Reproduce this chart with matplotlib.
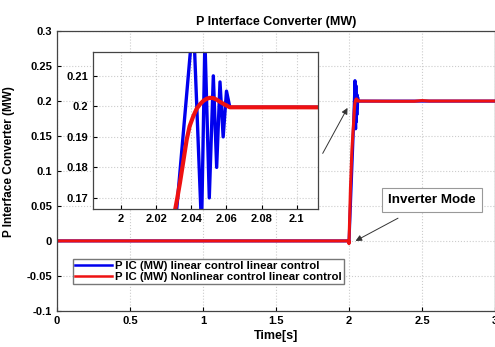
import matplotlib
matplotlib.use("Agg")
import matplotlib.pyplot as plt

plt.rcParams['font.family'] = ['Liberation Sans', 'DejaVu Sans']
plt.rcParams['font.weight'] = 'bold'

# Data
t_blue = [0.0, 1.999, 2.0, 2.0316, 2.0411, 2.0458, 2.0477, 2.0502, 2.0525, 2.0544,
          2.0563, 2.0581, 2.0600, 2.0619, 2.1, 2.3, 2.5, 3.0]
p_blue = [0.0, 0.0, -0.003, 0.166, 0.229, 0.160, 0.222, 0.170, 0.210, 0.180,
          0.208, 0.190, 0.205, 0.1997, 0.1997, 0.1997, 0.1997, 0.1997]

t_red = [0.0, 1.999, 2.0, 2.010, 2.020, 2.028, 2.0307, 2.032, 2.0335, 2.035, 2.0373,
         2.039, 2.0411, 2.043, 2.0449, 2.0468, 2.0487, 2.0506, 2.0525, 2.0544, 2.0563,
         2.058, 2.060, 2.0619, 2.1, 2.3, 2.45, 2.5, 2.55, 3.0]
p_red = [0.0, 0.0, -0.004, 0.075, 0.130, 0.158, 0.166, 0.170, 0.175, 0.1805, 0.189,
         0.1935, 0.1968, 0.1992, 0.2007, 0.2018, 0.2025, 0.2028, 0.2027, 0.2022, 0.2015,
         0.2009, 0.2003, 0.1997, 0.1997, 0.1995, 0.1995, 0.2005, 0.1998, 0.1998]

label_blue = "P IC (MW) linear control linear control"
label_red = "P IC (MW) Nonlinear control linear control"

main_xticks = [0, 0.5, 1, 1.5, 2, 2.5, 3]
main_yticks = [-0.1, -0.05, 0, 0.05, 0.1, 0.15, 0.2, 0.25, 0.3]
inset_xticks = [2, 2.02, 2.04, 2.06, 2.08, 2.1]
inset_yticks = [0.17, 0.18, 0.19, 0.2, 0.21]

fig = plt.figure(figsize=(4.95, 3.47), dpi=100)
ax = fig.add_axes([0.115, 0.104, 0.885, 0.807])

grid_kw = dict(color='#cccccc', linestyle=':', linewidth=0.8)

ax.plot(t_blue, p_blue, color='#0000ee', lw=2.2, label=label_blue)
ax.plot(t_red, p_red, color='#ee1111', lw=2.2, label=label_red)
ax.set_xlim(0, 3)
ax.set_ylim(-0.1, 0.3)
ax.set_xticks(main_xticks)
ax.set_xticklabels(['0', '0.5', '1', '1.5', '2', '2.5', '3'])
ax.set_yticks(main_yticks)
ax.set_yticklabels(['-0.1', '-0.05', '0', '0.05', '0.1', '0.15', '0.2', '0.25', '0.3'])
ax.grid(True, **grid_kw)
ax.tick_params(labelsize=8, length=3, width=0.8, direction='in')
for s in ax.spines.values():
    s.set_color('#444444')
    s.set_linewidth(0.9)
ax.set_title("P Interface Converter (MW)", fontsize=9, fontweight='bold', pad=4)
ax.set_xlabel("Time[s]", fontsize=9, fontweight='bold', labelpad=3)
ax.set_ylabel("P Interface Converter (MW)", fontsize=8.5, fontweight='bold')
ax.yaxis.set_label_coords(-0.095, 0.535)

leg = ax.legend(loc='lower left', bbox_to_anchor=(0.037, 0.096), borderaxespad=0,
                prop={'size': 8.2, 'weight': 'bold'}, fancybox=False, framealpha=1,
                edgecolor='#777777', handlelength=3.2, handletextpad=0.3,
                borderpad=0.2, labelspacing=0.05)
for line in leg.get_lines():
    line.set_linewidth(1.8)

ax.annotate("Inverter Mode", xy=(2.045, 0.0), xytext=(2.57, 0.0586),
            fontsize=9.6, fontweight='bold', ha='center', va='center',
            bbox=dict(boxstyle='square,pad=0.45', fc='white', ec='#999999', lw=0.8),
            arrowprops=dict(arrowstyle='-|>', color='#333333', lw=0.7,
                            shrinkA=9, shrinkB=0, mutation_scale=9))
ax.annotate("", xy=(1.99, 0.19), xytext=(1.82, 0.125),
            arrowprops=dict(arrowstyle='-|>', color='#333333', lw=0.7,
                            shrinkA=0, shrinkB=0, mutation_scale=9))

axin = fig.add_axes([0.188, 0.398, 0.454, 0.452])
axin.plot(t_blue, p_blue, color='#0000ee', lw=2.4)
axin.plot(t_red, p_red, color='#ee1111', lw=3.0)
axin.set_xlim(1.984, 2.112)
axin.set_ylim(0.1664, 0.2178)
axin.set_xticks(inset_xticks)
axin.set_xticklabels(['2', '2.02', '2.04', '2.06', '2.08', '2.1'])
axin.set_yticks(inset_yticks)
axin.set_yticklabels(['0.17', '0.18', '0.19', '0.2', '0.21'])
axin.grid(True, **grid_kw)
axin.tick_params(labelsize=8, length=3, width=0.8, direction='in')
for s in axin.spines.values():
    s.set_color('#444444')
    s.set_linewidth(0.9)

fig.savefig("out.png", dpi=100)
